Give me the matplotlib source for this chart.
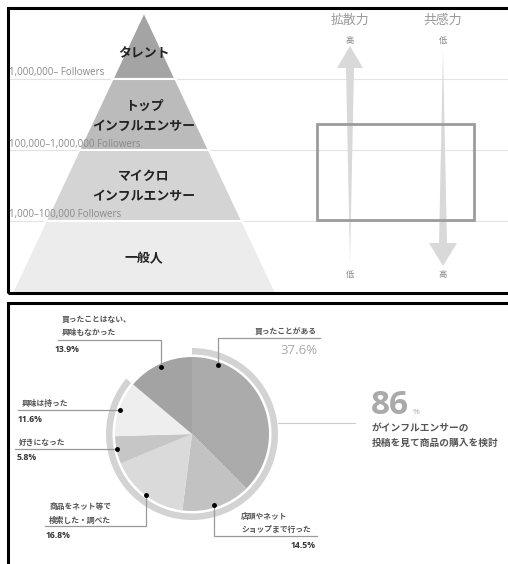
import matplotlib.pyplot as plt
from matplotlib.patches import Polygon, Rectangle

plt.rcParams['font.family'] = ['Noto Sans CJK JP', 'DejaVu Sans']

# --- top: influencer pyramid (top to bottom) ---
tiers = ['タレント', 'トップ\nインフルエンサー', 'マイクロ\nインフルエンサー', '一般人']
follower_ranges = ['1,000,000– Followers', '100,000–1,000,000 Followers', '1,000–100,000 Followers']
tier_colors = ['#a4a4a4', '#bbbbbb', '#d4d4d4', '#ececec']

scale_titles = ['拡散力', '共感力']
scale_top = ['高', '低']
scale_bottom = ['低', '高']

# --- bottom: purchase behaviour after seeing influencer posts (%) ---
answers = ['買ったことがある', '店頭やネット\nショップまで行った', '商品をネット等で\n検索した・調べた',
           '好きになった', '興味は持った', '買ったことはない、\n興味もなかった']
shares = [37.6, 14.5, 16.8, 5.8, 11.6, 13.9]
pie_colors = ['#ababab', '#c2c2c2', '#dadada', '#c6c6c6', '#eeeeee', '#a3a3a3']

considered = sum(shares[:-1])

W, H = 508, 564
def P(y):  # pixel row -> data y
    return H - y

fig = plt.figure(figsize=(W / 100, H / 100), dpi=100)
ax = fig.add_axes([0, 0, 1, 1])

# ---------- pyramid ----------
cx, apex, slope = 144, 12, 0.47
bounds = [apex, 79, 150, 221, 293]
for y in bounds[1:4]:
    ax.plot([8, W], [P(y), P(y)], color='#e3e3e3', lw=0.8, zorder=1)

for i, (name, col) in enumerate(zip(tiers, tier_colors)):
    t, b = bounds[i], bounds[i + 1]
    ht, hb = slope * (t - apex), slope * (b - apex)
    pts = [(cx - ht, P(t)), (cx + ht, P(t)), (cx + hb, P(b)), (cx - hb, P(b))]
    ax.add_patch(Polygon(pts, closed=True, fc=col, ec='white', lw=1.5, zorder=2))

tier_label_y = [53, 116, 186, 258]
for name, y in zip(tiers, tier_label_y):
    ax.text(cx, P(y), name, ha='center', va='center', fontsize=9.3, fontweight='bold',
            color='#222222', linespacing=1.5, zorder=3)

for lab, y in zip(follower_ranges, bounds[1:4]):
    ax.text(9, P(y - 6), lab, ha='left', va='center', fontsize=7, color='#8a8a8a',
            family=['Open Sans', 'DejaVu Sans'], zorder=3)

# ---------- scale arrows ----------
arrow_col = '#d9d9d9'
up = [(350, 263), (354, 68), (363, 68), (350, 46), (337, 68), (346, 68)]
down = [(443, 50), (447, 243), (457, 243), (443, 266), (429, 243), (439, 243)]
for shape in (up, down):
    ax.add_patch(Polygon([(x, P(y)) for x, y in shape], closed=True, fc=arrow_col, ec='none', zorder=2))

for x, title, top, bot in zip([350, 443], scale_titles, scale_top, scale_bottom):
    ax.text(x, P(20), title, ha='center', va='center', fontsize=9.3, color='#999999')
    ax.text(x, P(41), top, ha='center', va='center', fontsize=6, color='#888888')
    ax.text(x, P(275), bot, ha='center', va='center', fontsize=6, color='#888888')

ax.add_patch(Rectangle((317, P(220)), 157, 96, fill=False, ec='#9c9c9c', lw=2, zorder=4))

# ---------- pie ----------
center = (192, P(434))
ax.pie(shares, colors=pie_colors, startangle=90, counterclock=False, center=center,
       radius=77, wedgeprops=dict(linewidth=0))
ax.pie([considered, shares[-1]], colors=['#d3d3d3', 'none'], startangle=90, counterclock=False,
       center=center, radius=86, wedgeprops=dict(width=6.5, linewidth=0))

# leader lines: (path from dot), text pos, text align, pct pos, pct align
leaders = [
    ([(218, 365), (218, 338), (320, 338)], (255, 332), 'left', (318, 350), 'right'),
    ([(214, 505), (214, 536), (317, 536)], (241, 523), 'left', (316, 546), 'right'),
    ([(146, 495), (146, 526), (45, 526)], (49, 513), 'left', (46, 535), 'left'),
    ([(117, 449), (15, 449)], (19, 442), 'left', (17, 457), 'left'),
    ([(120, 410), (18, 410)], (22, 403), 'left', (18, 419), 'left'),
    ([(161, 367), (161, 340), (58, 340)], (62, 326), 'left', (55, 350), 'left'),
]
for i, (path, tpos, tha, ppos, pha) in enumerate(leaders):
    xs = [p[0] for p in path]
    ys = [P(p[1]) for p in path]
    ax.plot(xs, ys, color='#9a9a9a', lw=0.9, zorder=5)
    ax.plot(xs[0], ys[0], 'o', color='black', ms=2.5, zorder=6)
    ax.text(tpos[0], P(tpos[1]), answers[i], ha=tha, va='center', fontsize=5.6,
            fontweight='bold', color='#555555', linespacing=1.7, zorder=6)
    if i == 0:
        ax.text(ppos[0], P(ppos[1]), f'{shares[i]}%', ha=pha, va='center', fontsize=9.5,
                color='#aaaaaa', family=['Open Sans', 'DejaVu Sans'], zorder=6)
    else:
        ax.text(ppos[0], P(ppos[1]), f'{shares[i]}%', ha=pha, va='center', fontsize=6.2,
                fontweight='bold', color='#333333', family=['Open Sans', 'DejaVu Sans'], zorder=6)

# summary
ax.plot([278, 355], [P(423), P(423)], color='#cccccc', lw=0.8)
ax.text(371, P(406), f'{considered:.0f}', ha='left', va='center', fontsize=24, fontweight='bold',
        color='#aaaaaa', family=['Open Sans', 'DejaVu Sans'])
ax.text(413, P(412), '%', ha='left', va='center', fontsize=6, color='#aaaaaa',
        family=['Open Sans', 'DejaVu Sans'])
ax.text(372, P(428), 'がインフルエンサーの', ha='left', va='center', fontsize=7,
        fontweight='bold', color='#555555')
ax.text(372, P(443), '投稿を見て商品の購入を検討', ha='left', va='center', fontsize=7,
        fontweight='bold', color='#555555')

# ---------- panel borders ----------
ax.add_patch(Rectangle((8, P(293)), 530, 285, fill=False, ec='black', lw=2.2, zorder=10))
ax.add_patch(Rectangle((8, P(600)), 530, 297, fill=False, ec='black', lw=2.2, zorder=10))

ax.set_xlim(0, W)
ax.set_ylim(0, H)
ax.set_aspect('auto')
ax.axis('off')

fig.savefig('out.png', dpi=100)
